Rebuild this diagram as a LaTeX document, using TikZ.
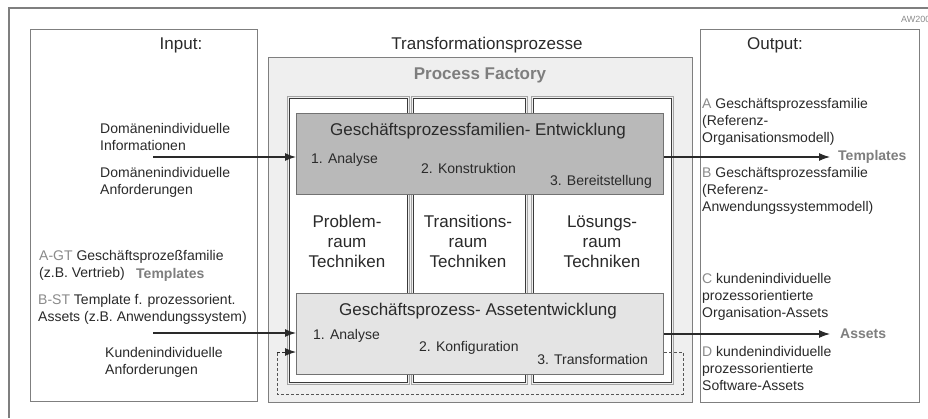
\documentclass[tikz,border=0pt]{standalone}
\usepackage{fontspec}
\setmainfont{Liberation Sans}
\usetikzlibrary{arrows.meta,calc}
\definecolor{txt}{HTML}{2A2A2A}
\definecolor{pre}{HTML}{8A8A8A}
\definecolor{lab}{HTML}{7E7E7E}
\definecolor{frame}{HTML}{7F7F7F}
\definecolor{facfill}{HTML}{EFEFEF}
\definecolor{famfill}{HTML}{B9B9B9}
\definecolor{assfill}{HTML}{E4E4E4}
\definecolor{colline}{HTML}{3A3A3A}
\tikzset{
  box/.style={draw=frame,line width=1.4pt,fill=white,anchor=north west,inner sep=0pt},
  colbox/.style={draw=colline,line width=1pt,fill=white,anchor=north west,inner sep=0pt},
  body/.style={font=\fontsize{14}{17}\selectfont,text=txt,inner sep=0pt,align=left},
  head/.style={font=\fontsize{17}{20}\selectfont,text=txt,inner sep=0pt,align=center},
  glab/.style={font=\fontsize{14}{17}\selectfont\bfseries,text=lab,inner sep=0pt},
  arr/.style={draw=txt,line width=1.1pt,-{Latex[length=11pt,width=8pt]}},
  dashline/.style={draw=txt!80,line width=0.9pt,dash pattern=on 3pt off 2pt},
}
\begin{document}
\begin{tikzpicture}[x=1pt,y=-1pt]
\useasboundingbox (0,0) rectangle (928,418);
\clip (0,0) rectangle (928,418);
% outer frame
\draw[frame,line width=1.6pt] (928,8) -- (9,8) -- (9,418);
\node[font=\fontsize{9}{10}\selectfont,text=pre,anchor=base west,inner sep=0pt] (aw) at (901,22) {AW200};
% input / output boxes
\node[box,minimum width=227pt,minimum height=372pt] (inbox) at (30,29) {};
\node[box,minimum width=219pt,minimum height=373pt] (outbox) at (700,29) {};
% factory
\node[box,fill=facfill,minimum width=424pt,minimum height=345pt] (fac) at (268,57) {};
% columns (gray outer line + dark inner line)
\foreach \n/\x/\w in {c1/289/118,c2/413/112,c3/533/138}{
  \draw[frame!70,line width=0.8pt] (\x-2,96) rectangle (\x+\w+2,384);
  \node[colbox,minimum width=\w pt,minimum height=284pt] (\n) at (\x,98) {};
}
% process boxes
\node[box,fill=famfill,draw=frame!90!black,minimum width=367pt,minimum height=81pt] (fam) at (296,113) {};
\node[box,fill=assfill,draw=frame!90!black,minimum width=367pt,minimum height=81pt] (ass) at (296,293) {};
% headings
\node[head,anchor=base] (tin) at (181,49) {Input:};
\node[head,anchor=base] (ttr) at (487,49) {Transformationsprozesse};
\node[head,anchor=base] (tout) at (775,49) {Output:};
\node[head,anchor=base,font=\fontsize{17}{20}\selectfont\bfseries,text=lab] (tpf) at (480,79) {Process Factory};
% process box texts
\node[head,anchor=base] (famt) at (478,135) {Geschäftsprozessfamilien- Entwicklung};
\node[body,anchor=base west] (f1) at (311,163) {1. Analyse};
\node[body,anchor=base west] (f2) at (421,173) {2. Konstruktion};
\node[body,anchor=base east] (f3) at (652,185) {3. Bereitstellung};
\node[head,anchor=base] (asst) at (478,315) {Geschäftsprozess- Assetentwicklung};
\node[body,anchor=base west] (a1) at (313,339) {1. Analyse};
\node[body,anchor=base west] (a2) at (419,351) {2. Konfiguration};
\node[body,anchor=base east] (a3) at (648,364) {3. Transformation};
% columns texts (base = last line)
\node[head,anchor=base] (p1) at (347,267) {Problem-\\raum\\Techniken};
\node[head,anchor=base] (p2) at (468,267) {Transitions-\\raum\\Techniken};
\node[head,anchor=base] (p3) at (602,267) {Lösungs-\\raum\\Techniken};
% input texts (base = last line)
\node[body,anchor=base west] (i1) at (100,150) {Domänenindividuelle\\Informationen};
\node[body,anchor=base west] (i2) at (100,194) {Domänenindividuelle\\Anforderungen};
\node[body,anchor=base west] (i3) at (39,277) {\textcolor{pre}{A-GT} Geschäftsprozeßfamilie\\(z.B. Vertrieb)};
\node[glab,anchor=base west] (i3t) at (136,278) {Templates};
\node[body,anchor=base west] (i4) at (38,321) {\textcolor{pre}{B-ST} Template f. prozessorient.\\Assets (z.B. Anwendungssystem)};
\node[body,anchor=base west] (i5) at (105,374) {Kundenindividuelle\\Anforderungen};
% output texts (base = last line)
\node[body,anchor=base west] (o1) at (702,142) {\textcolor{pre}{A} Geschäftsprozessfamilie\\(Referenz-\\Organisationsmodell)};
\node[glab,anchor=base west] (ot) at (838,160) {Templates};
\node[body,anchor=base west] (o2) at (702,211) {\textcolor{pre}{B} Geschäftsprozessfamilie\\(Referenz-\\Anwendungssystemmodell)};
\node[body,anchor=base west] (o3) at (702,317) {\textcolor{pre}{C} kundenindividuelle\\prozessorientierte\\Organisation-Assets};
\node[glab,anchor=base west] (oa) at (840,338) {Assets};
\node[body,anchor=base west] (o4) at (702,390) {\textcolor{pre}{D} kundenindividuelle\\prozessorientierte\\Software-Assets};
% connectors
\coordinate (s1) at (153,157);
\coordinate (e1) at (830,157);
\coordinate (s2) at (153,333);
\coordinate (e2) at (830,334);
\draw[arr] (s1) -- (s1 -| fam.west);
\draw[arr] (fam.east |- e1) -- (e1);
\draw[arr] (s2) -- (s2 -| ass.west);
\draw[arr] (ass.east |- e2) -- (e2);
\coordinate (d1) at (683,352);
\coordinate (d2) at (683,394);
\coordinate (d3) at (277,394);
\coordinate (d4) at (277,352);
\draw[dashline] (ass.east |- d1) -- (d1) -- (d2) -- (d3) -- (d4);
\draw[arr,line width=0.9pt,dash pattern=on 3pt off 2pt] (d4) -- (d4 -| ass.west);
\end{tikzpicture}
\end{document}
